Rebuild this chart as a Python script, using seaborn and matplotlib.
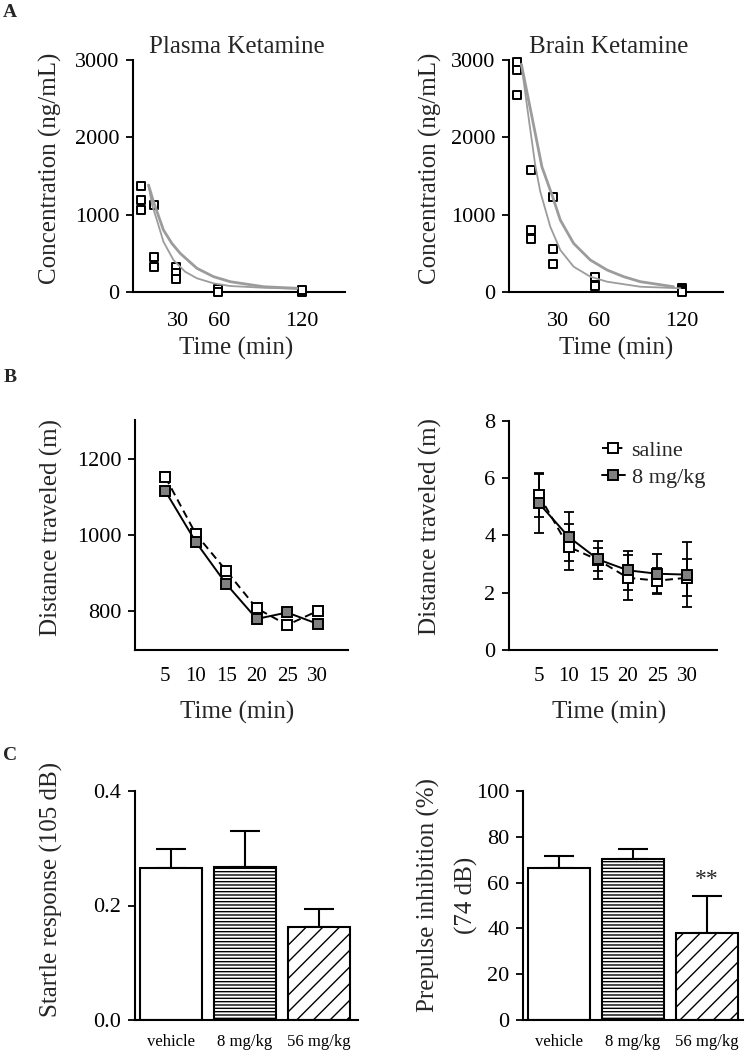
import seaborn as sns
import matplotlib.pyplot as plt

# panel A - ketamine concentration (ng/mL) vs time (min)
plasma_t = [2.5, 2.5, 2.5, 12.5, 12.5, 12.5, 28.5, 28.5, 28.5, 59, 59, 120, 120]
plasma_c = [1372, 1192, 1062, 1123, 460, 323, 331, 245, 168, 39, 8, 8, 30]
plasma_fit1_t = [8.3, 11.9, 19.2, 25.3, 31.4, 43.6, 55.7, 67.9, 92.2, 116.5]
plasma_fit1_c = [1385, 1170, 804, 632, 503, 310, 202, 137, 72, 52]
plasma_fit2_t = [8.3, 10.9, 14.4, 19.2, 26.5, 35, 43.6, 55.7, 67.9, 92.2, 116.5]
plasma_fit2_c = [1385, 1128, 933, 653, 417, 266, 181, 116, 81, 59, 46]

brain_t = [0, 0, 0, 10, 10, 10, 26, 26, 26, 57, 57, 120, 120, 120]
brain_c = [2977, 2870, 2547, 1580, 805, 684, 1234, 555, 361, 195, 75, 52, 25, 5]
brain_fit1_t = [3.0, 10.7, 18, 25.8, 31.4, 41.1, 53.3, 65.5, 77.6, 89.8, 114]
brain_fit1_c = [2945, 2267, 1620, 1234, 933, 632, 417, 288, 202, 137, 72]
brain_fit2_t = [3.0, 8.2, 13.1, 16.8, 24.1, 31.4, 41.1, 53.3, 65.5, 89.8, 119]
brain_fit2_c = [2945, 2267, 1643, 1299, 847, 546, 331, 202, 137, 72, 52]

# panel B - distance traveled
time_b = [5, 10, 15, 20, 25, 30]
dist_saline = [1153, 1003, 906, 807, 763, 800]
dist_8mg = [1116, 982, 871, 779, 796, 766]
dist2_saline = [5.41, 3.60, 3.14, 2.52, 2.42, 2.52]
dist2_saline_err = [0.78, 0.80, 0.68, 0.78, 0.45, 0.65]
dist2_8mg = [5.12, 3.95, 3.16, 2.78, 2.66, 2.63]
dist2_8mg_err = [1.03, 0.86, 0.40, 0.69, 0.68, 1.14]

# panel C - startle / PPI
groups = ['vehicle', '8 mg/kg', '56 mg/kg']
startle = [0.265, 0.267, 0.163]
startle_err = [0.033, 0.064, 0.031]
ppi = [66.2, 70.3, 38.1]
ppi_err = [5.4, 4.2, 16.0]

sns.set_style('ticks')
plt.rcParams['font.family'] = ['Liberation Serif', 'DejaVu Serif']
plt.rcParams['hatch.linewidth'] = 1.0

W, H = 755, 1050
fig = plt.figure(figsize=(W / 100, H / 100), dpi=100)


def make_axes(l, t, r, b):
    return fig.add_axes([l / W, 1 - b / H, (r - l) / W, (b - t) / H])


def style(ax, xpad):
    sns.despine(ax=ax)
    for s in ['left', 'bottom']:
        ax.spines[s].set_linewidth(1.5)
        ax.spines[s].set_color('black')
    ax.tick_params(axis='y', length=5, width=1.3, pad=5, labelsize=16, colors='black')
    ax.tick_params(axis='x', length=0, pad=xpad, labelsize=16, colors='black')


GRAY_LINE = '#9c9c9c'


def pk_panel(ax, t, c, f1t, f1c, f2t, f2c, title, tx):
    sns.scatterplot(x=t, y=c, ax=ax, marker='s', s=40, color='white',
                    edgecolor='black', linewidth=1.4, clip_on=False, zorder=3)
    # fit curves: first one is the thicker (doubled) line
    sns.lineplot(x=f1t, y=f1c, ax=ax, sort=False, color=GRAY_LINE, linewidth=2.0, zorder=4)
    sns.lineplot(x=f2t, y=f2c, ax=ax, sort=False, color=GRAY_LINE, linewidth=1.3, zorder=4)
    ax.set_ylim(0, 3000)
    ax.set_yticks([0, 1000, 2000, 3000])
    ax.set_xticks([30, 60, 120])
    style(ax, 14)
    ax.set_title(title, fontsize=18, x=tx, y=1.028, pad=0)
    ax.set_xlabel('Time (min)', fontsize=18, va='baseline')
    ax.set_ylabel('Concentration (ng/mL)', fontsize=18)


# ---- A ----
axA1 = make_axes(133.3, 60, 345, 292.3)
pk_panel(axA1, plasma_t, plasma_c, plasma_fit1_t, plasma_fit1_c,
         plasma_fit2_t, plasma_fit2_c, 'Plasma Ketamine', 0.49)
axA1.set_xlim(-2.8, 151.6)
axA1.xaxis.set_label_coords(0.488, -0.268)
axA1.yaxis.set_label_coords(-0.337, 0.534)

axA2 = make_axes(509.3, 60, 723.3, 292.3)
pk_panel(axA2, brain_t, brain_c, brain_fit1_t, brain_fit1_c,
         brain_fit2_t, brain_fit2_c, 'Brain Ketamine', 0.463)
axA2.set_xlim(-5.8, 150.3)
axA2.xaxis.set_label_coords(0.498, -0.268)
axA2.yaxis.set_label_coords(-0.314, 0.534)


# ---- B ----
def dist_lines(ax, sal, mg, sal_err=None, mg_err=None):
    if sal_err is not None:
        ax.errorbar(time_b, sal, yerr=sal_err, fmt='none', ecolor='black',
                    elinewidth=1.3, capsize=3.6, capthick=1.3, zorder=2)
        ax.errorbar(time_b, mg, yerr=mg_err, fmt='none', ecolor='black',
                    elinewidth=1.3, capsize=3.6, capthick=1.3, zorder=2)
    sns.lineplot(x=time_b, y=sal, ax=ax, color='black', linestyle=(0, (4, 2.5)),
                 linewidth=1.4, marker='s', markersize=7.5, markerfacecolor='white',
                 markeredgecolor='black', markeredgewidth=1.4, zorder=3,
                 label='saline')
    sns.lineplot(x=time_b, y=mg, ax=ax, color='black', linewidth=1.4, marker='s',
                 markersize=7.5, markerfacecolor='#808080', markeredgecolor='black',
                 markeredgewidth=1.4, zorder=4, label='8 mg/kg')
    ax.set_xlim(0, 35)
    ax.set_xticks(time_b)
    style(ax, 12)
    ax.tick_params(axis='x', labelsize=15)
    ax.set_xlabel('Time (min)', fontsize=18, va='baseline')
    ax.set_ylabel('Distance traveled (m)', fontsize=18)


axB1 = make_axes(135, 420, 348, 650)
dist_lines(axB1, dist_saline, dist_8mg)
axB1.set_ylim(697, 1304)
axB1.set_yticks([800, 1000, 1200])
axB1.get_legend().remove()
axB1.xaxis.set_label_coords(0.481, -0.300)
axB1.yaxis.set_label_coords(-0.338, 0.533)

axB2 = make_axes(509.3, 420.7, 716.7, 650)
dist_lines(axB2, dist2_saline, dist2_8mg, dist2_saline_err, dist2_8mg_err)
axB2.set_ylim(0, 8)
axB2.set_yticks([0, 2, 4, 6, 8])
axB2.legend(loc='upper left', bbox_to_anchor=(0.445, 0.915), frameon=False,
            fontsize=16, handlelength=1.05, handletextpad=0.3, labelspacing=0.3,
            borderpad=0, borderaxespad=0)
axB2.xaxis.set_label_coords(0.482, -0.301)
axB2.yaxis.set_label_coords(-0.326, 0.538)


# ---- C ----
def bar_panel(ax, vals, errs):
    sns.barplot(x=groups, y=vals, ax=ax, width=0.84, color='white', edgecolor='black',
                linewidth=1.5, errorbar=None, saturation=1, zorder=2)
    for patch, h in zip(ax.patches, ['', '-----', '//']):
        patch.set_hatch(h)
    ax.errorbar(groups, vals, yerr=[[0] * len(vals), errs], fmt='none', ecolor='black',
                elinewidth=1.5, capsize=11, capthick=1.5, zorder=1)
    style(ax, 10)
    ax.tick_params(axis='x', labelsize=12)


axC1 = make_axes(135, 791, 358, 1020)
bar_panel(axC1, startle, startle_err)
axC1.set_xlim(-0.486, 2.53)
axC1.set_ylim(0, 0.4)
axC1.set_yticks([0.0, 0.2, 0.4])
axC1.set_yticklabels(['0.0', '0.2', '0.4'])
axC1.set_ylabel('Startle response (105 dB)', fontsize=18)
axC1.yaxis.set_label_coords(-0.325, 0.572)

axC2 = make_axes(523.3, 791, 743.3, 1020)
bar_panel(axC2, ppi, ppi_err)
axC2.set_xlim(-0.48, 2.49)
axC2.set_ylim(0, 100)
axC2.set_yticks([0, 20, 40, 60, 80, 100])
axC2.set_ylabel('Prepulse inhibition (%)\n(74 dB)', fontsize=18, linespacing=1.8)
axC2.yaxis.set_label_coords(-0.208, 0.546)
axC2.text(2, 59, '**', ha='center', va='baseline', fontsize=17)

# panel letters
for letter, x, y in [('A', 2.7, 16.7), ('B', 3.3, 381.7), ('C', 3.3, 760)]:
    fig.text(x / W, 1 - y / H, letter, fontsize=14, fontweight='bold', va='baseline')

fig.savefig('out.png', dpi=100)
